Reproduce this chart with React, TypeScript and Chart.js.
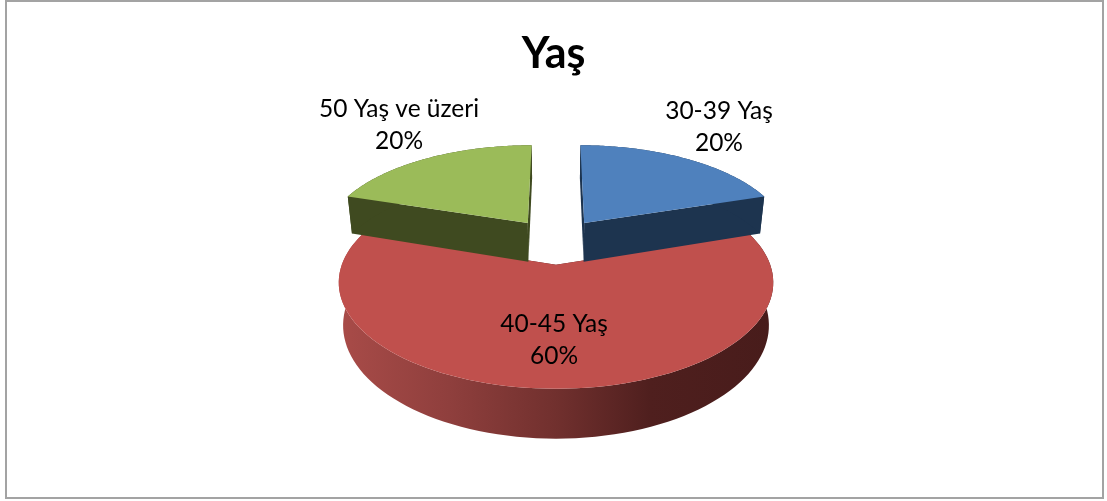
import React, { useEffect, useRef } from "react";
import { Chart, registerables } from "chart.js";

Chart.register(...registerables);

const titleText = "Yaş";
const categories = ["30-39 Yaş", "40-45 Yaş", "50 Yaş ve üzeri"];
const values = [20, 60, 20];

const topColors = ["#4f81bd", "#c0504d", "#9bbb59"];
const sideColors = ["#1d344f", "#4a1d1c", "#3f4a20"];
const sliceOffsets = [24, 24, 24];
const labelDistance = [1.5, 0.62, 1.5];
const labelNudgeX = [-9, -2, 15];
const labelNudgeY = [-4, 4, -6];

const FONT = "Lato, 'Open Sans', sans-serif";
const view = { cx: 556, cy: 241, rx: 206, ry: 95.5, persp: 0.16, depth: 40, lowerShrink: 0.98 };

type Pt = { x: number; y: number };

function project(X: number, Y: number, lower: boolean): Pt {
  const w = 1 + view.persp * Y;
  const sx = (view.rx * X) / w;
  const sy = (-view.ry * Y) / w;
  if (!lower) return { x: view.cx + sx, y: view.cy + sy };
  return { x: view.cx + sx * view.lowerShrink, y: view.cy + sy + view.depth / w };
}

function arcFrame(arc: any, offset: number) {
  const mid = (arc.startAngle + arc.endAngle) / 2;
  const e = offset / arc.outerRadius;
  return { ox: e * Math.cos(mid), oy: e * Math.sin(mid), mid };
}

function rimPoints(arc: any, offset: number, lower: boolean, from: number, to: number): Pt[] {
  const { ox, oy } = arcFrame(arc, offset);
  const pts: Pt[] = [];
  const steps = 96;
  for (let i = 0; i <= steps; i++) {
    const a = from + ((to - from) * i) / steps;
    pts.push(project(ox + Math.cos(a), -(oy + Math.sin(a)), lower));
  }
  return pts;
}

function fillPath(ctx: CanvasRenderingContext2D, pts: Pt[], fill: string | CanvasGradient) {
  ctx.beginPath();
  pts.forEach((p, i) => (i ? ctx.lineTo(p.x, p.y) : ctx.moveTo(p.x, p.y)));
  ctx.closePath();
  ctx.fillStyle = fill;
  ctx.fill();
}

const pie3d = {
  id: "pie3d",
  beforeDraw(chart: any) {
    const { ctx, width, height } = chart;
    ctx.save();
    ctx.fillStyle = "#ffffff";
    ctx.fillRect(0, 0, width, height);
    ctx.strokeStyle = "#a3a3a3";
    ctx.lineWidth = 2;
    ctx.strokeRect(6, 1, 1097, 497);
    ctx.restore();
  },
  beforeDatasetDraw(chart: any) {
    const { ctx } = chart;
    const arcs = chart.getDatasetMeta(0).data;
    const order = [1, 0, 2];
    order.forEach((i) => {
      const arc = arcs[i];
      const off = sliceOffsets[i];
      const { ox, oy } = arcFrame(arc, off);
      const s = arc.startAngle;
      const t = arc.endAngle;
      const apexTop = project(ox, -oy, false);
      const apexLow = project(ox, -oy, true);
      const rimTop = rimPoints(arc, off, false, s, t);
      const rimLow = rimPoints(arc, off, true, s, t);

      ctx.save();
      // cut faces
      fillPath(ctx, [apexTop, rimTop[0], rimLow[0], apexLow], sideColors[i]);
      fillPath(ctx, [apexTop, rimTop[rimTop.length - 1], rimLow[rimLow.length - 1], apexLow], sideColors[i]);
      // outer wall
      let wall: string | CanvasGradient = sideColors[i];
      if (i === 1) {
        const g = ctx.createLinearGradient(view.cx - view.rx - 8, 0, view.cx + view.rx + 8, 0);
        g.addColorStop(0, "#a84b48");
        g.addColorStop(0.25, "#8f3f3d");
        g.addColorStop(0.5, "#71302e");
        g.addColorStop(0.72, "#4f1f1e");
        g.addColorStop(1, "#481c1b");
        wall = g;
      }
      fillPath(ctx, [...rimTop, ...rimLow.slice().reverse()], wall);
      // top face
      fillPath(ctx, [apexTop, ...rimTop], arc.options.backgroundColor);
      ctx.restore();
    });
    return false;
  },
  afterDatasetsDraw(chart: any) {
    const { ctx } = chart;
    const arcs = chart.getDatasetMeta(0).data;
    const total = values.reduce((a, b) => a + b, 0);
    ctx.save();
    ctx.font = `24.5px ${FONT}`;
    ctx.fillStyle = "#000000";
    ctx.textAlign = "center";
    ctx.textBaseline = "middle";
    arcs.forEach((arc: any, i: number) => {
      const { ox, oy, mid } = arcFrame(arc, sliceOffsets[i]);
      const d = labelDistance[i];
      const p = project(ox + d * Math.cos(mid), -(oy + d * Math.sin(mid)), false);
      const x = p.x + labelNudgeX[i];
      const y = p.y + labelNudgeY[i];
      ctx.fillText(categories[i], x, y - 16);
      ctx.fillText(`${Math.round((values[i] / total) * 100)}%`, x, y + 16);
    });
    ctx.restore();
  },
};

export default function App() {
  const ref = useRef<HTMLCanvasElement>(null);
  useEffect(() => {
    const chart = new Chart(ref.current as HTMLCanvasElement, {
      type: "pie",
      data: {
        labels: categories,
        datasets: [
          {
            data: values,
            backgroundColor: topColors,
            offset: sliceOffsets,
            borderWidth: 0,
          },
        ],
      },
      options: {
        animation: false,
        responsive: false,
        radius: 100,
        plugins: {
          legend: { display: false },
          tooltip: { enabled: false },
          title: {
            display: true,
            text: titleText,
            color: "#000000",
            font: { family: FONT, size: 43, weight: "bold" },
            padding: { top: 28, bottom: 0 },
          },
        },
      } as any,
      plugins: [pie3d],
    });
    return () => chart.destroy();
  }, []);
  return (
    <div style={{ position: "fixed", left: 0, top: 0, width: 1107, height: 501 }}>
      <canvas ref={ref} width={1107} height={501} style={{ display: "block" }} />
    </div>
  );
}
